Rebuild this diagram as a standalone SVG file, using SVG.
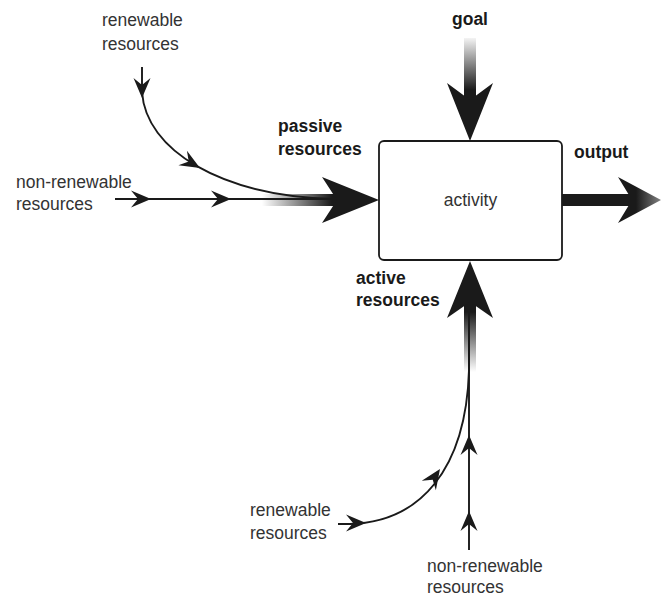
<svg xmlns="http://www.w3.org/2000/svg" width="661" height="597" viewBox="0 0 661 597">
  <style>
    .lbl { font-family: "Liberation Sans", Arial, sans-serif; font-size: 17.5px; fill: #333; }
    .bold { font-family: "Liberation Sans", Arial, sans-serif; font-size: 17.5px; font-weight: bold; fill: #1a1a1a; }
    .flow { fill: none; stroke: #1a1a1a; stroke-width: 1.9; }
    .head { fill: #1a1a1a; }
  </style>
  <defs>
    <!-- small barbed arrowhead, tip at origin, pointing along +x -->
    <path id="tip" d="M0,0 L-20,-8.5 L-13,0 L-20,8.5 Z" fill="#1a1a1a"/>
    <linearGradient id="gPassive" gradientUnits="userSpaceOnUse" x1="262" y1="0" x2="332" y2="0">
      <stop offset="0" stop-color="#1a1a1a" stop-opacity="0"/>
      <stop offset="1" stop-color="#1a1a1a"/>
    </linearGradient>
    <linearGradient id="gGoal" gradientUnits="userSpaceOnUse" x1="0" y1="38" x2="0" y2="90">
      <stop offset="0" stop-color="#1a1a1a" stop-opacity="0.05"/>
      <stop offset="1" stop-color="#1a1a1a"/>
    </linearGradient>
    <linearGradient id="gActive" gradientUnits="userSpaceOnUse" x1="0" y1="312" x2="0" y2="372">
      <stop offset="0" stop-color="#1a1a1a"/>
      <stop offset="1" stop-color="#1a1a1a" stop-opacity="0"/>
    </linearGradient>
    <linearGradient id="gOut" gradientUnits="userSpaceOnUse" x1="636" y1="0" x2="661" y2="0">
      <stop offset="0" stop-color="#1a1a1a"/>
      <stop offset="1" stop-color="#1a1a1a" stop-opacity="0.55"/>
    </linearGradient>
  </defs>

  <!-- central activity node -->
  <g id="activity">
    <rect x="379" y="141" width="183" height="119" rx="5" fill="#fff" stroke="#1a1a1a" stroke-width="1.8"/>
    <text class="lbl" x="470.5" y="206" text-anchor="middle">activity</text>
  </g>

  <g id="goal">
    <text class="bold" x="470" y="25" text-anchor="middle">goal</text>
  </g>

  <g id="output">
    <text class="bold" x="574" y="158">output</text>
  </g>

  <g id="passive-resources">
    <text class="bold" x="278" y="132">passive</text>
    <text class="bold" x="278" y="155">resources</text>
  </g>

  <g id="active-resources">
    <text class="bold" x="356" y="284">active</text>
    <text class="bold" x="356" y="306">resources</text>
  </g>

  <g id="renewable-top">
    <text class="lbl" x="102" y="26">renewable</text>
    <text class="lbl" x="102" y="50">resources</text>
  </g>

  <g id="nonrenewable-left">
    <text class="lbl" x="16" y="188">non-renewable</text>
    <text class="lbl" x="16" y="210">resources</text>
  </g>

  <g id="renewable-bottom">
    <text class="lbl" x="250" y="516">renewable</text>
    <text class="lbl" x="250" y="539">resources</text>
  </g>

  <g id="nonrenewable-bottom">
    <text class="lbl" x="427" y="572">non-renewable</text>
    <text class="lbl" x="427" y="593">resources</text>
  </g>

  <g id="connectors">
    <!-- passive resources: thin inflows merging into a broad arrow -->
    <path class="flow" d="M142,67 L142,92 C146,150 220,196 335,199"/>
    <path class="flow" d="M115,199 L335,199"/>
    <use href="#tip" transform="translate(142,98) rotate(90)"/>
    <use href="#tip" transform="translate(200,168) rotate(30)"/>
    <use href="#tip" transform="translate(151,199)"/>
    <use href="#tip" transform="translate(231,199)"/>
    <rect x="262" y="194" width="76" height="12" fill="url(#gPassive)"/>
    <path class="head" d="M379,200 L322,177 L337,200 L322,223 Z"/>

    <!-- goal -->
    <rect x="464" y="38" width="12" height="62" fill="url(#gGoal)"/>
    <path class="head" d="M470,141 L447,83 L470,100 L493,83 Z"/>

    <!-- output -->
    <rect x="562" y="194" width="70" height="12" fill="#1a1a1a"/>
    <path d="M661,200 L618,177 L632,200 L618,223 Z" fill="url(#gOut)"/>

    <!-- active resources: thin inflows merging into a broad arrow -->
    <path class="flow" d="M338,524 L350,524 C420,522 466,470 469,370 L469,300"/>
    <path class="flow" d="M469,550 L469,300"/>
    <use href="#tip" transform="translate(366,523)"/>
    <use href="#tip" transform="translate(440,469) rotate(-56)"/>
    <use href="#tip" transform="translate(469,511) rotate(-90)"/>
    <use href="#tip" transform="translate(469,435) rotate(-90)"/>
    <rect x="464" y="300" width="12" height="74" fill="url(#gActive)"/>
    <path class="head" d="M470,261 L447,318 L470,302 L493,318 Z"/>
  </g>
</svg>
